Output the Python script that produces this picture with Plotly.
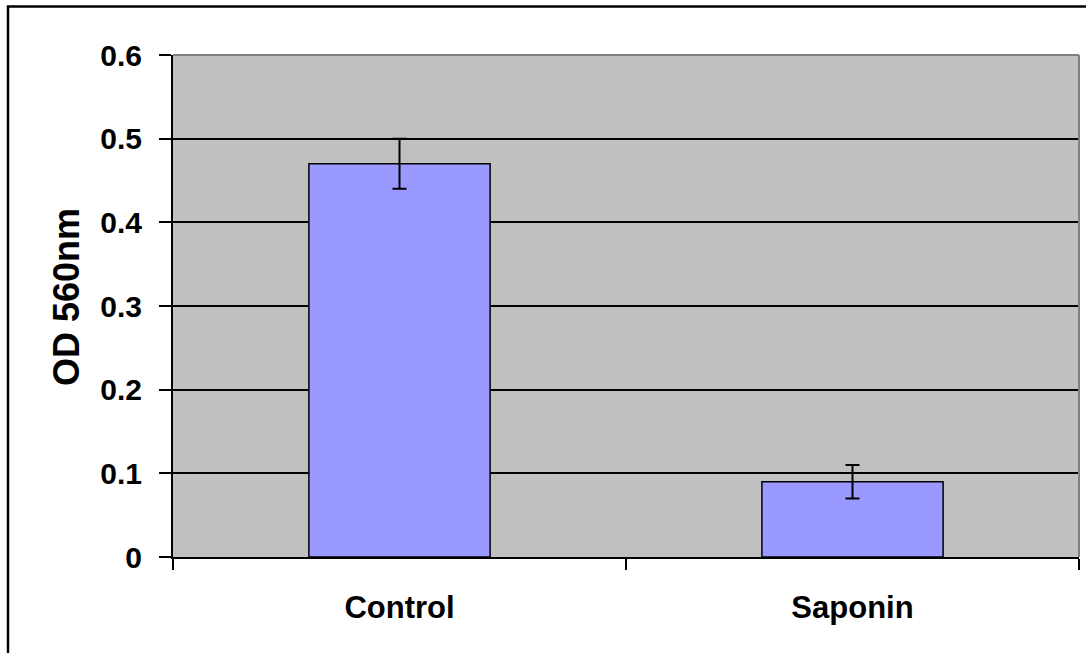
import plotly.graph_objects as go

categories = ["Control", "Saponin"]
values = [0.47, 0.09]
errors = [0.03, 0.02]
y_ticks = [0, 0.1, 0.2, 0.3, 0.4, 0.5, 0.6]
y_tick_labels = ["0", "0.1", "0.2", "0.3", "0.4", "0.5", "0.6"]
y_title = "OD 560nm"

FONT = "Liberation Sans, Arial, sans-serif"

fig = go.Figure()
fig.add_trace(go.Bar(
    x=categories, y=values,
    marker=dict(color="#9999FF", line=dict(color="black", width=1.5)),
    error_y=dict(type="data", array=errors, visible=True, color="black",
                 thickness=2, width=7),
    width=0.4,
))

L, T, PW, PH = 173, 55, 906, 502
fig.update_layout(
    width=1086, height=653,
    margin=dict(l=L, r=1086 - L - PW, t=T, b=653 - T - PH, pad=0),
    paper_bgcolor="white", plot_bgcolor="#C0C0C0",
    showlegend=False,
    font=dict(family=FONT, size=29, color="black"),
)
fig.update_xaxes(
    type="category", tickson="boundaries", ticks="outside", ticklen=11,
    tickwidth=2, tickcolor="black", showline=True, linecolor="black",
    linewidth=2, showgrid=False, ticklabelstandoff=22,
    tickfont=dict(family=FONT, size=31, color="black", weight="bold"),
)
fig.update_yaxes(
    range=[0, 0.6], tickvals=y_ticks, ticktext=[f"<b>{t}</b>" for t in y_tick_labels],
    ticks="outside", ticklen=12, tickwidth=2, tickcolor="black",
    showline=True, linecolor="black", linewidth=2,
    showgrid=True, gridcolor="black", gridwidth=1.5, zeroline=False,
    ticklabelstandoff=11,
    tickfont=dict(family=FONT, size=30, color="black"),
)

fig.add_annotation(
    text=f"<b>{y_title}</b>", textangle=-90, showarrow=False,
    xref="paper", yref="paper",
    x=(66 - L) / PW, y=(T + PH - 297) / PH,
    xanchor="center", yanchor="middle",
    font=dict(family=FONT, size=36, color="black"),
)

# gray top/right frame of plot area
fig.add_shape(type="line", xref="paper", yref="paper", x0=0, x1=1, y0=1, y1=1,
              line=dict(color="#808080", width=2), layer="above")
fig.add_shape(type="line", xref="paper", yref="paper", x0=1, x1=1, y0=0, y1=1,
              line=dict(color="#808080", width=2), layer="above")
# outer chart border (clipped at right and bottom)
fig.add_shape(type="rect", xref="paper", yref="paper",
              x0=(8 - L) / PW, x1=1.2, y0=-0.4, y1=(T + PH - 6.5) / PH,
              line=dict(color="black", width=2.5), layer="above")

fig.write_html("out.html", config={"displayModeBar": False},
               post_script="document.body.style.margin='0';document.body.style.padding='0';")
